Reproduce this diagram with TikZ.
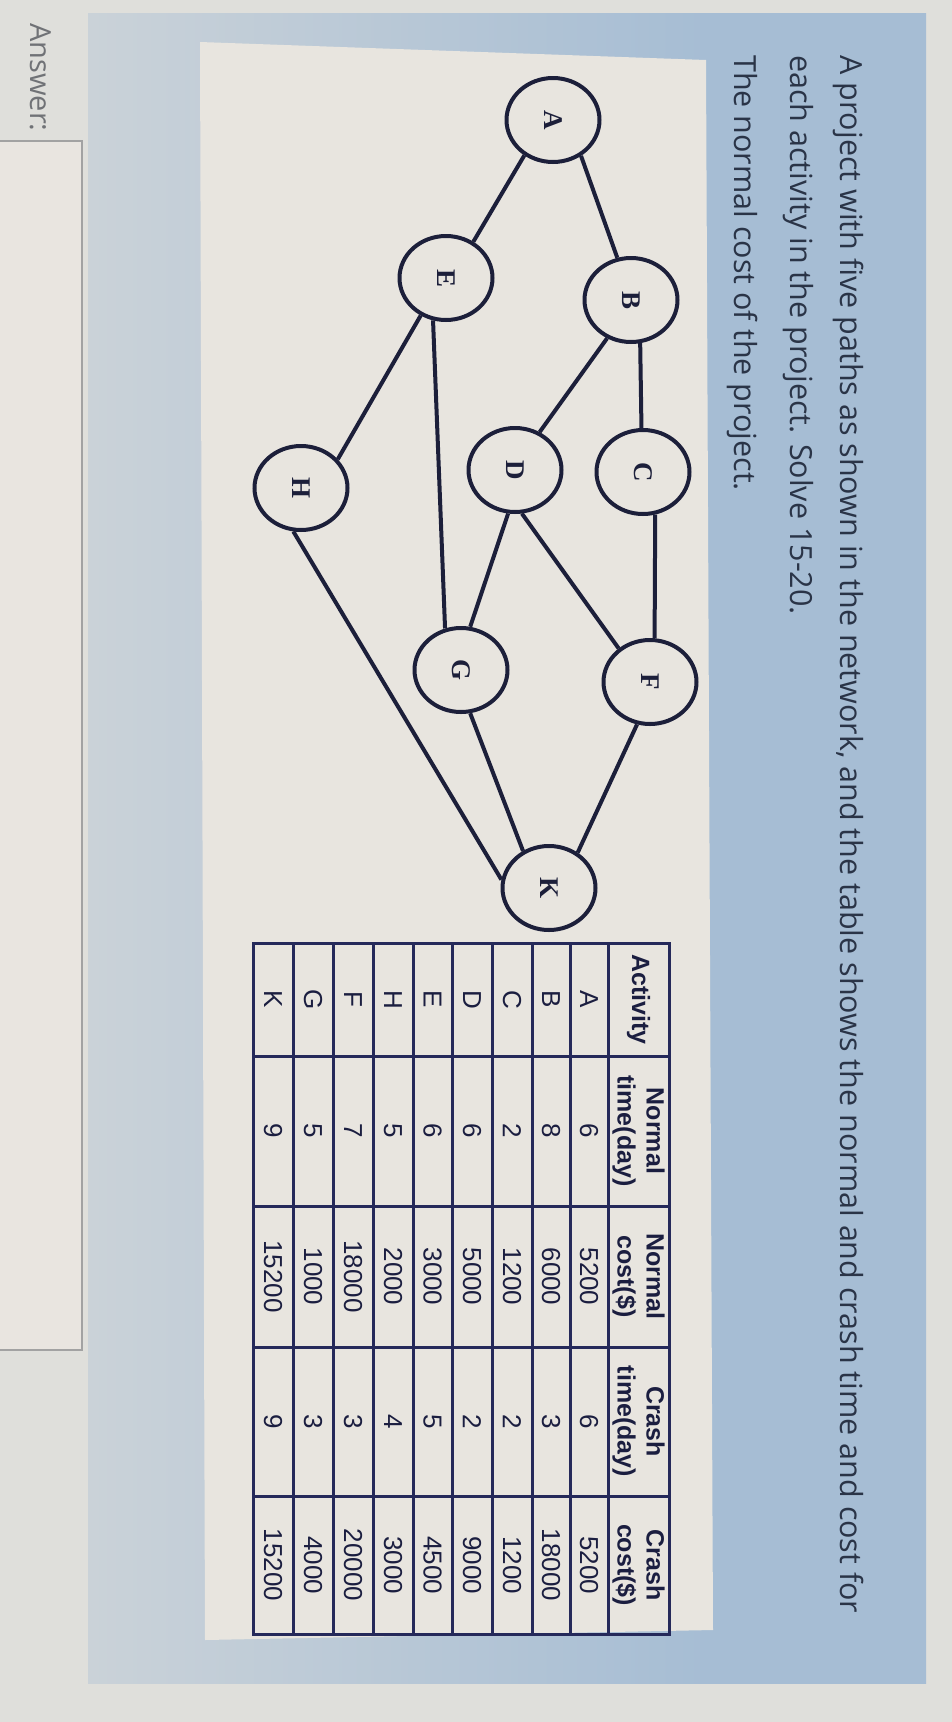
\documentclass[tikz,border=0pt]{standalone}
\usepackage{fontspec}
\setmainfont{Liberation Sans}
\newfontfamily\qfont{Open Sans}
\newfontfamily\tfont{Liberation Sans}
\newfontfamily\nfont{Liberation Serif}
\usetikzlibrary{shapes.geometric}
\definecolor{pagebg}{HTML}{DFDFDB}
\definecolor{pgrey}{HTML}{CFD5D9}
\definecolor{pblue}{HTML}{A6BDD4}
\definecolor{cream}{HTML}{E8E5DF}
\definecolor{ansbox}{HTML}{E9E5E0}
\definecolor{ansline}{HTML}{A2A2A2}
\definecolor{qcol}{HTML}{2A3447}
\definecolor{anscol}{HTML}{707276}
\definecolor{ink}{HTML}{1C1F3A}
\definecolor{tline}{HTML}{25295A}
\definecolor{tcol}{HTML}{1B1E40}
\pgfdeclarehorizontalshading{panelshade}{100bp}{color(0bp)=(pgrey); color(20bp)=(pgrey); color(62bp)=(pblue); color(100bp)=(pblue)}
\tikzset{
  actnode/.style={ellipse, draw=ink, line width=4pt, fill=cream, minimum width=93pt, minimum height=84pt, inner sep=0pt,
    font=\nfont\bfseries\fontsize{27}{27}\selectfont, text=ink},
  edge/.style={draw=ink, line width=4pt},
  qtext/.style={rotate=-90, anchor=base west, inner sep=0pt, text=qcol, font=\qfont\fontsize{30.5}{34}\selectfont},
  anstext/.style={rotate=-90, anchor=base west, inner sep=0pt, text=anscol, font=\qfont\fontsize{29}{32}\selectfont},
  cell/.style={rotate=-90, inner sep=0pt, text=tcol, font=\tfont\fontsize{26}{28}\selectfont},
  hcell/.style={rotate=-90, inner sep=0pt, text=tcol, align=center, font=\tfont\bfseries\fontsize{25}{29}\selectfont},
  grid/.style={draw=tline, line width=3pt}
}
\begin{document}
\begin{tikzpicture}[x=1pt,y=-1pt]
\useasboundingbox (0,0) rectangle (952,1722);
% background
\fill[pagebg] (0,0) rectangle (952,1722);
\shade[shading=panelshade] (88,13) rectangle (926,1683);
\fill[cream] (200,42) -- (706,60) -- (713,1630) -- (205,1640) -- cycle;
% answer
\node[anstext] (ans) at (30,23) {Answer:};
\filldraw[fill=ansbox, draw=ansline, line width=1.5pt] (-2,141) rectangle (82,1350);
% question text
\node[qtext] (q1) at (840,55) {A project with five paths as shown in the network, and the table shows the normal and crash time and cost for};
\node[qtext] (q2) at (790,55) {each activity in the project. Solve 15-20.};
\node[qtext] (q3) at (734,55) {The normal cost of the project.};
% network
\node[actnode] (A) at (553,120) {\rotatebox{-90}{A}};
\node[actnode] (B) at (631,300) {\rotatebox{-90}{B}};
\node[actnode] (E) at (446,278) {\rotatebox{-90}{E}};
\node[actnode] (C) at (643,472) {\rotatebox{-90}{C}};
\node[actnode] (D) at (515,470) {\rotatebox{-90}{D}};
\node[actnode] (H) at (301,488) {\rotatebox{-90}{H}};
\node[actnode] (G) at (461,670) {\rotatebox{-90}{G}};
\node[actnode] (F) at (650,682) {\rotatebox{-90}{F}};
\node[actnode] (K) at (549,888) {\rotatebox{-90}{K}};
\draw[edge] (A.308) -- (B.108);
\draw[edge] (A.231) -- (E.53);
\draw[edge] (B.282) -- (C.92);
\draw[edge] (B.238) -- (D.57);
\draw[edge] (C.286) -- (F.84);
\draw[edge] (D.261) -- (G.78);
\draw[edge] (D.279) -- (F.133);
\draw[edge] (E.253) -- (G.111);
\draw[edge] (E.236) -- (H.38);
\draw[edge] (H.260) -- (K.170);
\draw[edge] (G.282) -- (K.125);
\draw[edge] (F.253) -- (K.51);
% table grid
\draw[grid] (253,943) rectangle (669,1634);
\foreach \xx in {608,570,532,492,452,413,373,333,293}
  \draw[grid] (\xx,943) -- (\xx,1634);
\foreach \yy in {1056,1206,1347,1496}
  \draw[grid] (253,\yy) -- (669,\yy);
% header
\node[hcell] (h1) at (638.5,999.5) {Activity};
\node[hcell] (h2) at (638.5,1131) {Normal\\time(day)};
\node[hcell] (h3) at (638.5,1276.5) {Normal\\cost(\$)};
\node[hcell] (h4) at (638.5,1421.5) {Crash\\time(day)};
\node[hcell] (h5) at (638.5,1565) {Crash\\cost(\$)};
% rows
\foreach \xc/\act/\nt/\nc/\ct/\cc in {
  589/A/6/5200/6/5200,
  551/B/8/6000/3/18000,
  512/C/2/1200/2/1200,
  472/D/6/5000/2/9000,
  432.5/E/6/3000/5/4500,
  393/H/5/2000/4/3000,
  353/F/7/18000/3/20000,
  313/G/5/1000/3/4000,
  273/K/9/15200/9/15200}{
  \node[cell] (r\act a) at (\xc,999.5) {\act};
  \node[cell] (r\act b) at (\xc,1131) {\nt};
  \node[cell] (r\act c) at (\xc,1276.5) {\nc};
  \node[cell] (r\act d) at (\xc,1421.5) {\ct};
  \node[cell] (r\act e) at (\xc,1565) {\cc};
}
\end{tikzpicture}
\end{document}
